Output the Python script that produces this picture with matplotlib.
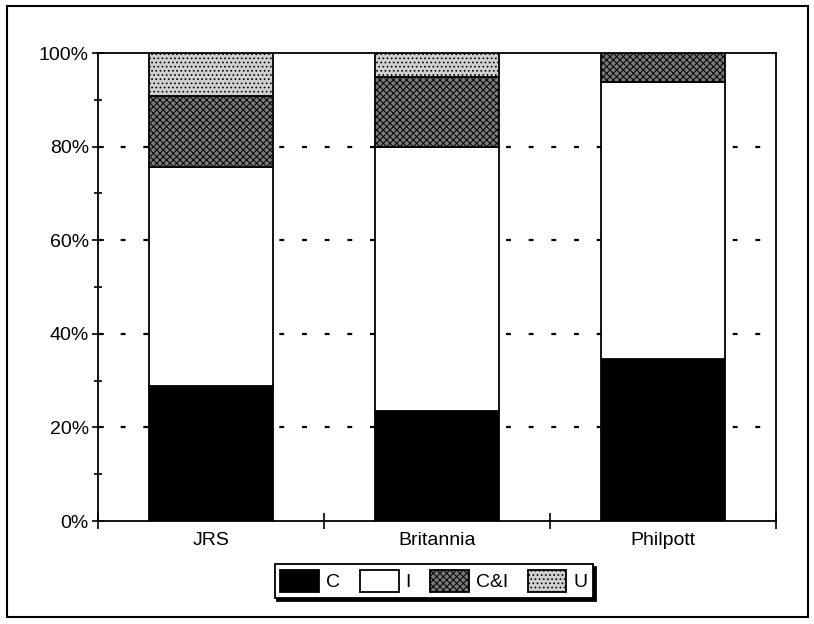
import numpy as np
import matplotlib
matplotlib.use("Agg")
import matplotlib.pyplot as plt
from matplotlib.patches import Rectangle
from matplotlib.ticker import MultipleLocator, FuncFormatter

# Data (percent shares)
sites = ["JRS", "Britannia", "Philpott"]
c_vals = [28.9, 23.5, 34.6]
i_vals = [46.7, 56.4, 59.3]
ci_vals = [15.3, 15.0, 6.1]
u_vals = [9.1, 5.1, 0.0]

plt.rcParams["font.family"] = ["Liberation Sans", "DejaVu Sans"]
plt.rcParams["hatch.linewidth"] = 0.7

fig = plt.figure(figsize=(8.14, 6.24), dpi=100)
ax = fig.add_axes([0.1204, 0.165, 0.8326, 0.75])

x = np.arange(len(sites))
w = 0.55
bottom = np.zeros(len(sites))
series = [
    ("C", c_vals, dict(facecolor="black", edgecolor="black")),
    ("I", i_vals, dict(facecolor="white", edgecolor="black")),
    ("C&I", ci_vals, dict(facecolor="#7a7a7a", edgecolor="black", hatch="xxxxx")),
    ("U", u_vals, dict(facecolor="#d0d0d0", edgecolor="black", hatch="....")),
]
for name, vals, style in series:
    ax.bar(x, vals, w, bottom=bottom, label=name, linewidth=1.3, zorder=3, **style)
    bottom = bottom + np.array(vals)

ax.set_xlim(-0.5, 2.5)
ax.set_ylim(0, 100)
ax.yaxis.set_major_locator(MultipleLocator(20))
ax.yaxis.set_minor_locator(MultipleLocator(10))
ax.yaxis.set_major_formatter(FuncFormatter(lambda v, p: f"{v:.0f}%"))
for yv in [20, 40, 60, 80]:
    ax.axhline(yv, color="black", linestyle=(0, (2.2, 8)), linewidth=1.6, zorder=1)

ax.set_xticks(x)
ax.set_xticklabels(sites)
ax.tick_params(axis="x", length=0, labelsize=14, pad=8)
ax.set_xticks([-0.5, 0.5, 1.5, 2.5], minor=True)
ax.tick_params(axis="x", which="minor", direction="inout", length=12, width=1.2)
ax.tick_params(axis="y", which="major", direction="inout", length=9, width=1.2, labelsize=14, pad=2)
ax.tick_params(axis="y", which="minor", direction="inout", length=6, width=1.2)
for s in ax.spines.values():
    s.set_linewidth(1.3)

leg = fig.legend(loc="center", bbox_to_anchor=(0.533, 0.069), ncol=4, fontsize=14,
                 frameon=True, fancybox=False, shadow={"color": "black", "alpha": 1},
                 edgecolor="black", handlelength=2.0, handleheight=1.4,
                 columnspacing=1.0, handletextpad=0.35, borderpad=0.3)
leg.get_frame().set_linewidth(1.3)

fig.patches.append(Rectangle((0.008, 0.012), 0.985, 0.978, transform=fig.transFigure,
                             fill=False, edgecolor="black", linewidth=1.5))

plt.savefig("out.png", dpi=100)
